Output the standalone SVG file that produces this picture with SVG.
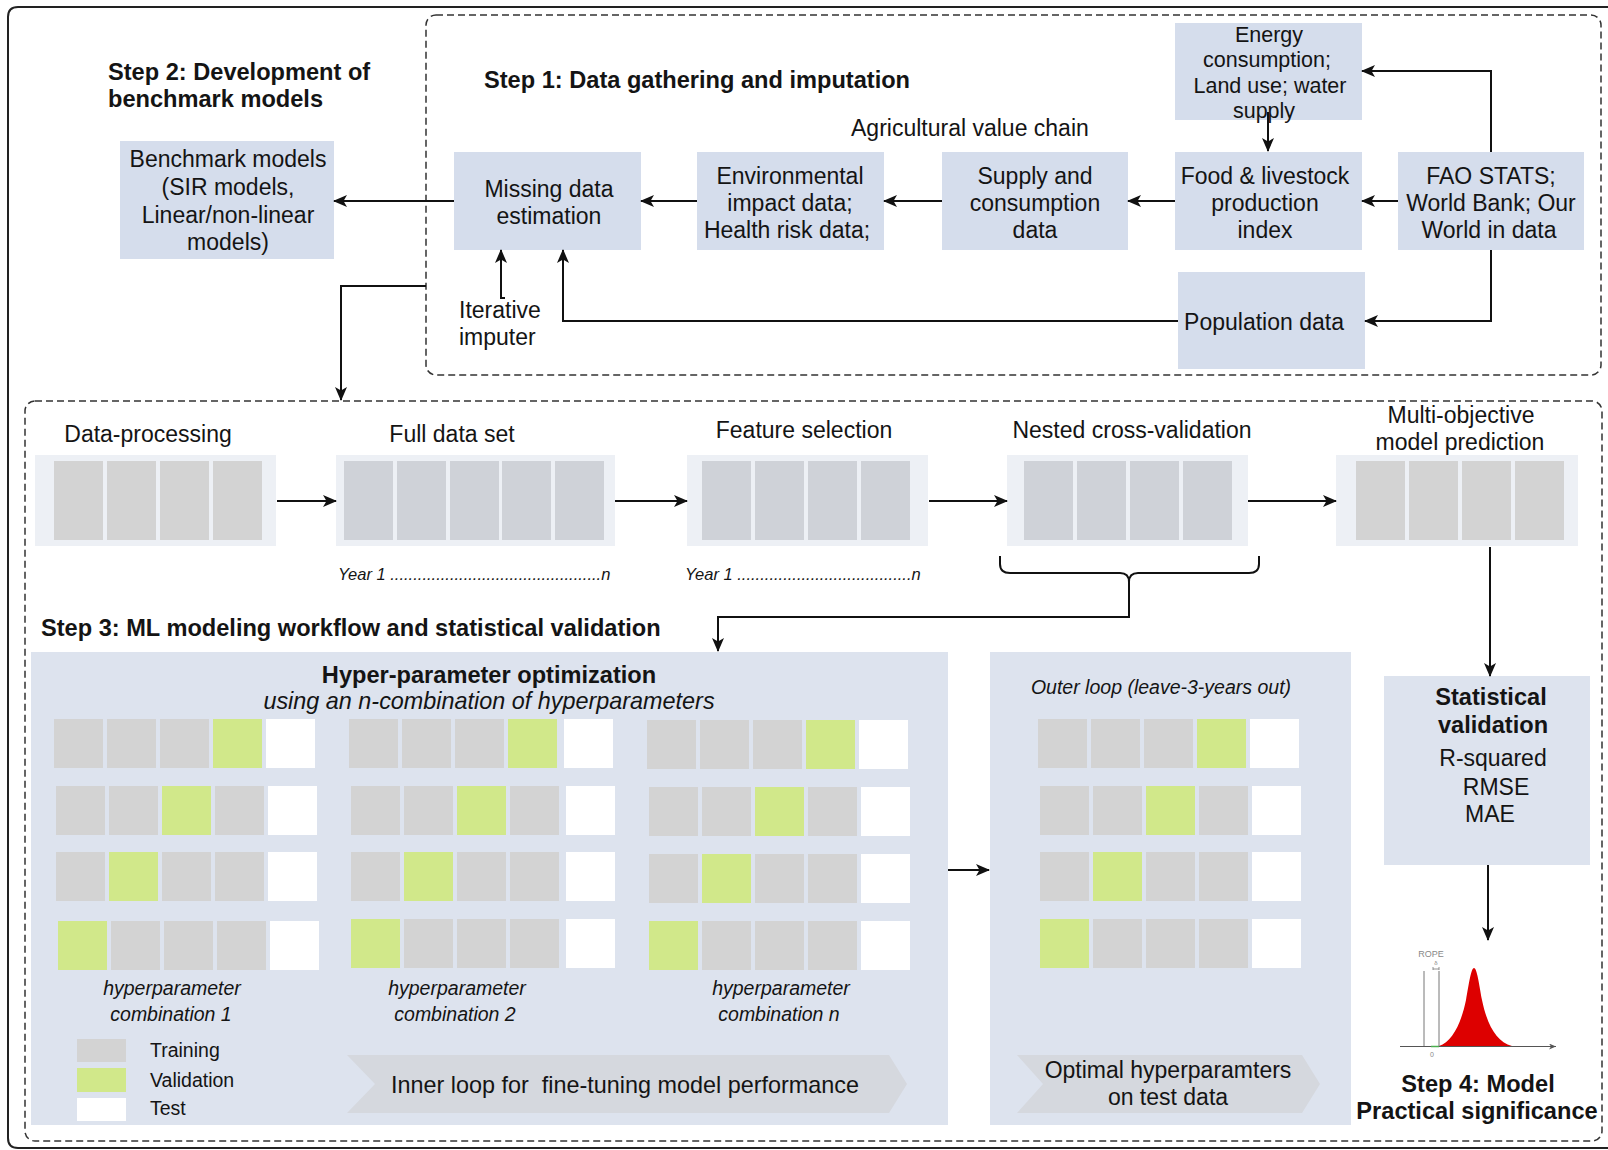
<svg xmlns="http://www.w3.org/2000/svg" width="1608" height="1150" viewBox="0 0 1608 1150">
  <defs>
    <marker id="ah" markerWidth="14" markerHeight="12" refX="13" refY="6" orient="auto" markerUnits="userSpaceOnUse">
      <path d="M0,0 L14,6 L0,12 L3.5,6 z" fill="#111"/>
    </marker>
    <marker id="ahs" markerWidth="7" markerHeight="6" refX="7" refY="3" orient="auto" markerUnits="userSpaceOnUse">
      <path d="M0,0 L7,3 L0,6 L2,3 z" fill="#555"/>
    </marker>
  </defs>
  <style>
    text { font-family: "Liberation Sans", Arial, sans-serif; fill: #141414; }
    .c { text-anchor: middle; }
    .f23 { font-size: 23px; }
    .f21 { font-size: 21.5px; }
    .f19 { font-size: 19.5px; }
    .b { font-weight: bold; font-size: 23.6px; }
    .i { font-style: italic; }
    .ii { font-style: italic; font-size: 23.4px; }
    .node { fill: #d5ddec; }
    .panel { fill: #dde3ee; }
    .strip { fill: #edf0f5; }
    .g { fill: #d3d3d3; }
    .gb { fill: #cfd2d8; }
    .v { fill: #d1e88a; }
    .w { fill: #ffffff; }
    .chev { fill: #d5d8de; }
    .dash { fill: none; stroke: #333; stroke-width: 1.5; stroke-dasharray: 7 4; }
    .con { fill: none; stroke: #111; stroke-width: 2; }
    .arr { marker-end: url(#ah); }
  </style>

  <rect width="1608" height="1150" fill="#ffffff"/>

  <!-- outer frame -->
  <path d="M1620,7 H18 Q8,7 8,17 V1138 Q8,1148 18,1148 H1620" fill="none" stroke="#222" stroke-width="2"/>

  <!-- dashed step boundaries -->
  <rect id="step1-area" class="dash" x="426" y="15" width="1175" height="360" rx="10"/>
  <rect id="step3-area" class="dash" x="25" y="401" width="1577" height="740" rx="10"/>

  <!-- titles -->
  <g id="step2-title">
    <text class="b" x="108" y="80">Step 2: Development of</text>
    <text class="b" x="108" y="106.5">benchmark models</text>
  </g>
  <text id="step1-title" class="b" x="484" y="87.5">Step 1: Data gathering and imputation</text>
  <text id="value-chain-label" class="f23" x="851" y="136">Agricultural value chain</text>
  <text id="step3-title" class="b" x="41" y="636">Step 3: ML modeling workflow and statistical validation</text>

  <!-- Step 1 / Step 2 nodes -->
  <g id="benchmark">
    <rect class="node" x="120" y="141" width="214" height="118"/>
    <text class="f23 c" x="228" y="167">Benchmark models</text>
    <text class="f23 c" x="228" y="195">(SIR models,</text>
    <text class="f23 c" x="228" y="222.5">Linear/non-linear</text>
    <text class="f23 c" x="228" y="250">models)</text>
  </g>
  <g id="missing">
    <rect class="node" x="454" y="152" width="187" height="98"/>
    <text class="f23 c" x="549" y="197">Missing data</text>
    <text class="f23 c" x="549" y="224">estimation</text>
  </g>
  <g id="environmental">
    <rect class="node" x="697" y="152" width="187" height="98"/>
    <text class="f23 c" x="790" y="184">Environmental</text>
    <text class="f23 c" x="790" y="210.5">impact data;</text>
    <text class="f23 c" x="787" y="237.5">Health risk data;</text>
  </g>
  <g id="supply">
    <rect class="node" x="942" y="152" width="186" height="98"/>
    <text class="f23 c" x="1035" y="184">Supply and</text>
    <text class="f23 c" x="1035" y="210.5">consumption</text>
    <text class="f23 c" x="1035" y="237.5">data</text>
  </g>
  <g id="food">
    <rect class="node" x="1175" y="152" width="187" height="98"/>
    <text class="f23 c" x="1265" y="184">Food &amp; livestock</text>
    <text class="f23 c" x="1265" y="210.5">production</text>
    <text class="f23 c" x="1265" y="237.5">index</text>
  </g>
  <g id="fao">
    <rect class="node" x="1398" y="152" width="186" height="98"/>
    <text class="f23 c" x="1491" y="184">FAO STATS;</text>
    <text class="f23 c" x="1491" y="210.5">World Bank; Our</text>
    <text class="f23 c" x="1489" y="237.5">World in data</text>
  </g>
  <g id="energy">
    <rect class="node" x="1175" y="23" width="187" height="97"/>
    <text class="f21 c" x="1269" y="41.5">Energy</text>
    <text class="f21 c" x="1267" y="67">consumption;</text>
    <text class="f21 c" x="1270" y="92.5">Land use; water</text>
    <text class="f21 c" x="1264" y="118">supply</text>
  </g>
  <g id="population">
    <rect class="node" x="1178" y="272" width="187" height="97"/>
    <text class="f23 c" x="1264" y="330">Population data</text>
  </g>
  <g id="iterative-imputer">
    <text class="f23" x="459" y="318">Iterative</text>
    <text class="f23" x="459" y="345">imputer</text>
  </g>

  <!-- data pipeline strips -->
  <g id="data-processing">
    <text class="f23 c" x="148" y="442">Data-processing</text>
    <rect class="strip" x="35" y="455" width="241" height="91"/>
    <rect class="g" x="54" y="461" width="49" height="79"/>
    <rect class="g" x="107" y="461" width="49" height="79"/>
    <rect class="g" x="160" y="461" width="49" height="79"/>
    <rect class="g" x="213" y="461" width="49" height="79"/>
  </g>
  <g id="full-data-set">
    <text class="f23 c" x="452" y="442">Full data set</text>
    <rect class="strip" x="336" y="455" width="279" height="91"/>
    <rect class="gb" x="344" y="461" width="49" height="79"/>
    <rect class="gb" x="397" y="461" width="49" height="79"/>
    <rect class="gb" x="450" y="461" width="49" height="79"/>
    <rect class="gb" x="502" y="461" width="49" height="79"/>
    <rect class="gb" x="555" y="461" width="49" height="79"/>
    <text class="i" font-size="16.5" x="338" y="580">Year 1 ..............................................n</text>
  </g>
  <g id="feature-selection">
    <text class="f23 c" x="804" y="438">Feature selection</text>
    <rect class="strip" x="687" y="455" width="241" height="91"/>
    <rect class="gb" x="702" y="461" width="49" height="79"/>
    <rect class="gb" x="755" y="461" width="49" height="79"/>
    <rect class="gb" x="808" y="461" width="49" height="79"/>
    <rect class="gb" x="861" y="461" width="49" height="79"/>
    <text class="i" font-size="16.5" x="685" y="580">Year 1 ......................................n</text>
  </g>
  <g id="nested-cv">
    <text class="f23 c" x="1132" y="438">Nested cross-validation</text>
    <rect class="strip" x="1007" y="455" width="241" height="91"/>
    <rect class="gb" x="1024" y="461" width="49" height="79"/>
    <rect class="gb" x="1077" y="461" width="49" height="79"/>
    <rect class="gb" x="1130" y="461" width="49" height="79"/>
    <rect class="gb" x="1183" y="461" width="49" height="79"/>
  </g>
  <g id="multi-objective">
    <text class="f23 c" x="1461" y="423">Multi-objective</text>
    <text class="f23 c" x="1460" y="450">model prediction</text>
    <rect class="strip" x="1336" y="455" width="242" height="91"/>
    <rect class="g" x="1356" y="461" width="49" height="79"/>
    <rect class="g" x="1409" y="461" width="49" height="79"/>
    <rect class="g" x="1462" y="461" width="49" height="79"/>
    <rect class="g" x="1515" y="461" width="49" height="79"/>
  </g>

  <!-- hyper-parameter optimisation panel -->
  <g id="hyperparameter-optimization">
    <rect class="panel" x="31" y="652" width="917" height="473"/>
    <text class="b c" x="489" y="683">Hyper-parameter optimization</text>
    <text class="ii c" x="489" y="709">using an n-combination of hyperparameters</text>

    <!-- combination 1 -->
    <rect class="g" x="54" y="719" width="49" height="49"/>
    <rect class="g" x="107" y="719" width="49" height="49"/>
    <rect class="g" x="160" y="719" width="49" height="49"/>
    <rect class="v" x="213" y="719" width="49" height="49"/>
    <rect class="w" x="266" y="719" width="49" height="49"/>
    <rect class="g" x="56" y="786" width="49" height="49"/>
    <rect class="g" x="109" y="786" width="49" height="49"/>
    <rect class="v" x="162" y="786" width="49" height="49"/>
    <rect class="g" x="215" y="786" width="49" height="49"/>
    <rect class="w" x="268" y="786" width="49" height="49"/>
    <rect class="g" x="56" y="852" width="49" height="49"/>
    <rect class="v" x="109" y="852" width="49" height="49"/>
    <rect class="g" x="162" y="852" width="49" height="49"/>
    <rect class="g" x="215" y="852" width="49" height="49"/>
    <rect class="w" x="268" y="852" width="49" height="49"/>
    <rect class="v" x="58" y="921" width="49" height="49"/>
    <rect class="g" x="111" y="921" width="49" height="49"/>
    <rect class="g" x="164" y="921" width="49" height="49"/>
    <rect class="g" x="217" y="921" width="49" height="49"/>
    <rect class="w" x="270" y="921" width="49" height="49"/>
    <text class="f19 i c" x="172" y="995">hyperparameter</text>
    <text class="f19 i c" x="171" y="1021">combination 1</text>

    <!-- combination 2 -->
    <rect class="g" x="349" y="719" width="49" height="49"/>
    <rect class="g" x="402" y="719" width="49" height="49"/>
    <rect class="g" x="455" y="719" width="49" height="49"/>
    <rect class="v" x="508" y="719" width="49" height="49"/>
    <rect class="w" x="564" y="719" width="49" height="49"/>
    <rect class="g" x="351" y="786" width="49" height="49"/>
    <rect class="g" x="404" y="786" width="49" height="49"/>
    <rect class="v" x="457" y="786" width="49" height="49"/>
    <rect class="g" x="510" y="786" width="49" height="49"/>
    <rect class="w" x="566" y="786" width="49" height="49"/>
    <rect class="g" x="351" y="852" width="49" height="49"/>
    <rect class="v" x="404" y="852" width="49" height="49"/>
    <rect class="g" x="457" y="852" width="49" height="49"/>
    <rect class="g" x="510" y="852" width="49" height="49"/>
    <rect class="w" x="566" y="852" width="49" height="49"/>
    <rect class="v" x="351" y="919" width="49" height="49"/>
    <rect class="g" x="404" y="919" width="49" height="49"/>
    <rect class="g" x="457" y="919" width="49" height="49"/>
    <rect class="g" x="510" y="919" width="49" height="49"/>
    <rect class="w" x="566" y="919" width="49" height="49"/>
    <text class="f19 i c" x="457" y="995">hyperparameter</text>
    <text class="f19 i c" x="455" y="1021">combination 2</text>

    <!-- combination n -->
    <rect class="g" x="647" y="720" width="49" height="49"/>
    <rect class="g" x="700" y="720" width="49" height="49"/>
    <rect class="g" x="753" y="720" width="49" height="49"/>
    <rect class="v" x="806" y="720" width="49" height="49"/>
    <rect class="w" x="859" y="720" width="49" height="49"/>
    <rect class="g" x="649" y="787" width="49" height="49"/>
    <rect class="g" x="702" y="787" width="49" height="49"/>
    <rect class="v" x="755" y="787" width="49" height="49"/>
    <rect class="g" x="808" y="787" width="49" height="49"/>
    <rect class="w" x="861" y="787" width="49" height="49"/>
    <rect class="g" x="649" y="854" width="49" height="49"/>
    <rect class="v" x="702" y="854" width="49" height="49"/>
    <rect class="g" x="755" y="854" width="49" height="49"/>
    <rect class="g" x="808" y="854" width="49" height="49"/>
    <rect class="w" x="861" y="854" width="49" height="49"/>
    <rect class="v" x="649" y="921" width="49" height="49"/>
    <rect class="g" x="702" y="921" width="49" height="49"/>
    <rect class="g" x="755" y="921" width="49" height="49"/>
    <rect class="g" x="808" y="921" width="49" height="49"/>
    <rect class="w" x="861" y="921" width="49" height="49"/>
    <text class="f19 i c" x="781" y="995">hyperparameter</text>
    <text class="f19 i c" x="779" y="1021">combination n</text>

    <!-- legend -->
    <rect class="g" x="77" y="1039" width="49" height="23"/>
    <rect class="v" x="77" y="1068" width="49" height="24"/>
    <rect class="w" x="77" y="1098" width="49" height="23"/>
    <text class="f19" x="150" y="1057">Training</text>
    <text class="f19" x="150" y="1087">Validation</text>
    <text class="f19" x="150" y="1115">Test</text>

    <!-- inner loop banner -->
    <polygon class="chev" points="347,1055 889,1055 907,1084 889,1113 347,1113 375,1084"/>
    <text x="391" y="1093" font-size="23.4" style="white-space:pre">Inner loop for  fine-tuning model performance</text>
  </g>

  <!-- outer loop panel -->
  <g id="outer-loop">
    <rect class="panel" x="990" y="652" width="361" height="473"/>
    <text class="f19 i c" x="1161" y="694">Outer loop (leave-3-years out)</text>
    <rect class="g" x="1038" y="719" width="49" height="49"/>
    <rect class="g" x="1091" y="719" width="49" height="49"/>
    <rect class="g" x="1144" y="719" width="49" height="49"/>
    <rect class="v" x="1197" y="719" width="49" height="49"/>
    <rect class="w" x="1250" y="719" width="49" height="49"/>
    <rect class="g" x="1040" y="786" width="49" height="49"/>
    <rect class="g" x="1093" y="786" width="49" height="49"/>
    <rect class="v" x="1146" y="786" width="49" height="49"/>
    <rect class="g" x="1199" y="786" width="49" height="49"/>
    <rect class="w" x="1252" y="786" width="49" height="49"/>
    <rect class="g" x="1040" y="852" width="49" height="49"/>
    <rect class="v" x="1093" y="852" width="49" height="49"/>
    <rect class="g" x="1146" y="852" width="49" height="49"/>
    <rect class="g" x="1199" y="852" width="49" height="49"/>
    <rect class="w" x="1252" y="852" width="49" height="49"/>
    <rect class="v" x="1040" y="919" width="49" height="49"/>
    <rect class="g" x="1093" y="919" width="49" height="49"/>
    <rect class="g" x="1146" y="919" width="49" height="49"/>
    <rect class="g" x="1199" y="919" width="49" height="49"/>
    <rect class="w" x="1252" y="919" width="49" height="49"/>
    <polygon class="chev" points="1017,1055 1302,1055 1320,1084 1302,1113 1017,1113 1043,1084"/>
    <text class="f23 c" x="1168" y="1078">Optimal hyperparamters</text>
    <text class="f23 c" x="1168" y="1105">on test data</text>
  </g>

  <!-- statistical validation -->
  <g id="statistical-validation">
    <rect class="panel" x="1384" y="676" width="206" height="189"/>
    <text class="b c" x="1491" y="705">Statistical</text>
    <text class="b c" x="1493" y="733">validation</text>
    <text class="f23 c" x="1493" y="766">R-squared</text>
    <text class="f23 c" x="1496" y="795">RMSE</text>
    <text class="f23 c" x="1490" y="822">MAE</text>
  </g>

  <!-- practical significance (ROPE sketch) -->
  <g id="practical-significance">
    <path d="M1439,1046 C1452,1042 1461,1024 1466,1000 C1469,984 1471,968 1474,968 C1477,968 1479,984 1482,1000 C1487,1024 1496,1042 1512,1046 Z" fill="#dd0000"/>
    <line x1="1424" y1="971" x2="1424" y2="1046" stroke="#777" stroke-width="1"/>
    <line x1="1439" y1="971" x2="1439" y2="1046" stroke="#777" stroke-width="1"/>
    <path d="M1433,967 V970 M1433,969 H1439 M1439,967 V970" stroke="#777" stroke-width="0.8" fill="none"/>
    <line x1="1400" y1="1046.5" x2="1556" y2="1046.5" stroke="#555" stroke-width="1" marker-end="url(#ahs)"/>
    <line x1="1431" y1="1046.5" x2="1439" y2="1046.5" stroke="#4caf50" stroke-width="1.5"/>
    <text x="1431" y="957" font-size="9" class="c" style="fill:#888">ROPE</text>
    <text x="1436" y="965" font-size="6" class="c" style="fill:#888">δ</text>
    <text x="1432" y="1057" font-size="7" class="c" style="fill:#888">0</text>
    <text class="b c" x="1478" y="1092">Step 4: Model</text>
    <text class="b c" x="1477" y="1119">Practical significance</text>
  </g>

  <!-- connectors -->
  <g id="connectors">
    <path class="con arr" d="M454,201 H334"/>
    <path class="con arr" d="M697,201 H641"/>
    <path class="con arr" d="M942,201 H884"/>
    <path class="con arr" d="M1175,201 H1128"/>
    <path class="con arr" d="M1398,201 H1362"/>
    <path class="con arr" d="M1491,152 V71 H1362"/>
    <path class="con arr" d="M1491,250 V321 H1365"/>
    <path class="con arr" d="M1268,112 V151"/>
    <path class="con arr" d="M1178,321 H563 V250"/>
    <path class="con arr" d="M505,298 H501 V250"/>
    <path class="con arr" d="M426,286 H341 V400"/>
    <path class="con arr" d="M277,501 H336"/>
    <path class="con arr" d="M615,501 H687"/>
    <path class="con arr" d="M929,501 H1007"/>
    <path class="con arr" d="M1248,501 H1336"/>
    <path class="con" d="M1000,556 V564 Q1000,573 1010,573 H1120 Q1129,573 1129,582 Q1129,573 1138,573 H1249 Q1259,573 1259,564 V556"/>
    <path class="con arr" d="M1129,582 V617 H718 V651"/>
    <path class="con arr" d="M1490,547 V676"/>
    <path class="con arr" d="M948,870 H989"/>
    <path class="con arr" d="M1488,865 V940"/>
  </g>
</svg>
